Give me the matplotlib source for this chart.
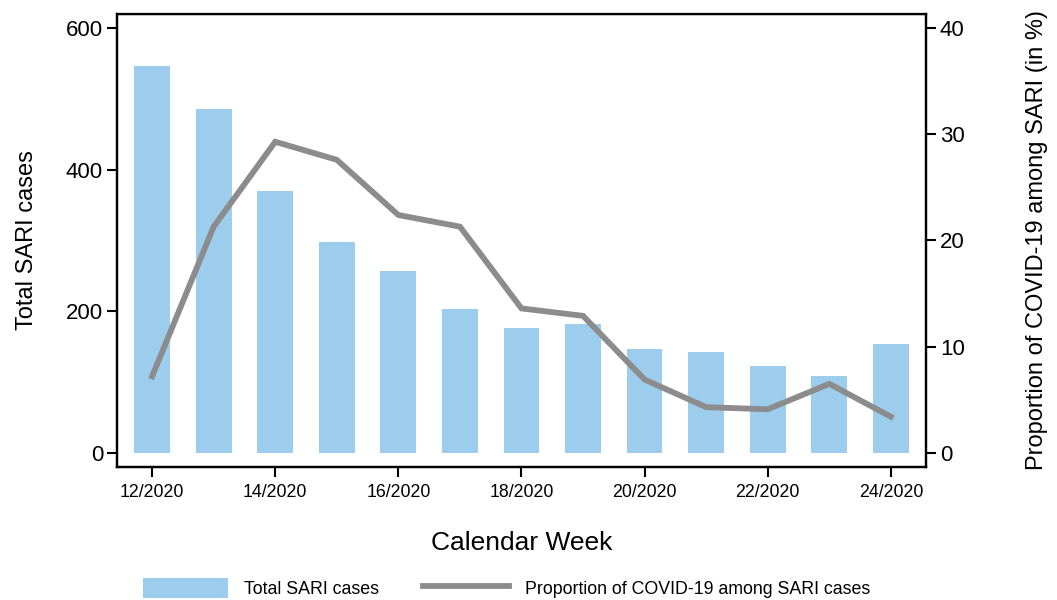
import numpy as np
import matplotlib.pyplot as plt
from matplotlib.lines import Line2D
from matplotlib.patches import Patch

plt.rcParams['font.family'] = ['Liberation Sans', 'DejaVu Sans']

# --- data ---
weeks = ["12/2020", "13/2020", "14/2020", "15/2020", "16/2020", "17/2020", "18/2020",
         "19/2020", "20/2020", "21/2020", "22/2020", "23/2020", "24/2020"]
sari_cases = [546, 486, 370, 298, 257, 203, 176, 182, 147, 142, 123, 108, 154]
covid_share = [7.2, 21.3, 29.3, 27.6, 22.4, 21.3, 13.6, 12.9, 6.9, 4.3, 4.1, 6.5, 3.4]

bar_color = '#9DCDEC'
line_color = '#8C8C8C'

x = np.arange(len(weeks))

fig = plt.figure(figsize=(10.57, 6), dpi=100)
ax = fig.add_axes([0.1107, 0.2217, 0.7653, 0.755])

ax.bar(x, sari_cases, width=0.58, color=bar_color, zorder=1)
ax.set_xlim(-0.57, len(weeks) - 1 + 0.57)
ax.set_ylim(-20, 620)
ax.set_yticks([0, 200, 400, 600])
ax.set_xticks(x[::2])
ax.set_xticklabels(weeks[::2], fontsize=12.8)
ax.tick_params(axis='y', labelsize=16, length=7, width=1.5, direction='out', pad=3)
ax.tick_params(axis='x', length=7, width=1.5, direction='out', pad=5)
ax.set_ylabel('Total SARI cases', fontsize=17, labelpad=20)
ax.set_xlabel('Calendar Week', fontsize=19, labelpad=22)

ax2 = ax.twinx()
ax2.plot(x, covid_share, color=line_color, linewidth=4.2, solid_joinstyle='miter', zorder=3)
ax2.set_ylim(-20 / 15, 620 / 15)
ax2.set_yticks([0, 10, 20, 30, 40])
ax2.tick_params(axis='y', labelsize=16, length=7, width=1.5, direction='out', pad=3)
ax2.set_ylabel('Proportion of COVID-19 among SARI (in %)', fontsize=17, labelpad=44)

for a in (ax, ax2):
    for s in a.spines.values():
        s.set_linewidth(1.6)
        s.set_color('black')
ax.spines['top'].set_color('#333333')
ax.spines['top'].set_linewidth(1.0)

handles = [Patch(facecolor=bar_color, edgecolor='none'),
           Line2D([0], [0], color=line_color, linewidth=4.2)]
labels = ['Total SARI cases', 'Proportion of COVID-19 among SARI cases']
fig.legend(handles, labels, loc='center', bbox_to_anchor=(0.479, 0.02), ncol=2,
           frameon=False, fontsize=12.8, handlelength=4.8, handleheight=1.4,
           handletextpad=0.9, columnspacing=2.5)

fig.savefig('out.png', dpi=100)
